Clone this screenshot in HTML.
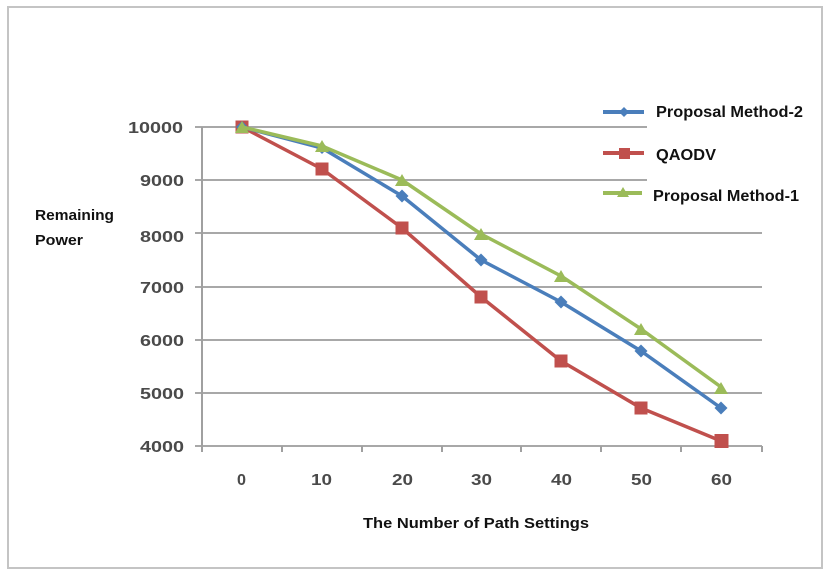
<!DOCTYPE html>
<html><head><meta charset="utf-8"><style>
html,body{margin:0;padding:0;background:#fff;}
svg{display:block;}
text{font-family:"Liberation Sans",sans-serif;font-weight:bold;}
</style></head><body>
<svg width="827" height="580" viewBox="0 0 827 580" xmlns="http://www.w3.org/2000/svg">
<rect x="0" y="0" width="827" height="580" fill="#fff"/>
<rect x="8" y="7" width="814" height="561" fill="#fff" stroke="#c4c4c4" stroke-width="2"/>
<!-- gridlines -->
<g stroke="#a8a8a8" stroke-width="2">
<line x1="195" y1="127" x2="647" y2="127"/>
<line x1="195" y1="180" x2="647" y2="180"/>
<line x1="195" y1="233" x2="762" y2="233"/>
<line x1="195" y1="287" x2="762" y2="287"/>
<line x1="195" y1="340" x2="762" y2="340"/>
<line x1="195" y1="393" x2="762" y2="393"/>
<line x1="195" y1="446" x2="762" y2="446"/>
</g>
<!-- axes -->
<g stroke="#a0a0a0" stroke-width="2">
<line x1="202" y1="127" x2="202" y2="452"/>
<line x1="282" y1="446" x2="282" y2="452"/>
<line x1="362" y1="446" x2="362" y2="452"/>
<line x1="442" y1="446" x2="442" y2="452"/>
<line x1="521" y1="446" x2="521" y2="452"/>
<line x1="601" y1="446" x2="601" y2="452"/>
<line x1="681" y1="446" x2="681" y2="452"/>
<line x1="762" y1="446" x2="762" y2="452"/>
</g>
<!-- y labels -->
<g fill="#4a4a4a" font-size="16" text-anchor="end">
<text x="183" y="133" textLength="55" lengthAdjust="spacingAndGlyphs">10000</text>
<text x="184" y="186" textLength="44" lengthAdjust="spacingAndGlyphs">9000</text>
<text x="184" y="242" textLength="44" lengthAdjust="spacingAndGlyphs">8000</text>
<text x="184" y="293" textLength="44" lengthAdjust="spacingAndGlyphs">7000</text>
<text x="184" y="346" textLength="44" lengthAdjust="spacingAndGlyphs">6000</text>
<text x="184" y="399" textLength="44" lengthAdjust="spacingAndGlyphs">5000</text>
<text x="184" y="452" textLength="44" lengthAdjust="spacingAndGlyphs">4000</text>
</g>
<!-- x labels -->
<g fill="#4a4a4a" font-size="16">
<text x="237" y="485" textLength="9" lengthAdjust="spacingAndGlyphs">0</text>
<text x="311" y="485" textLength="21" lengthAdjust="spacingAndGlyphs">10</text>
<text x="392" y="485" textLength="21" lengthAdjust="spacingAndGlyphs">20</text>
<text x="471" y="485" textLength="21" lengthAdjust="spacingAndGlyphs">30</text>
<text x="551" y="485" textLength="21" lengthAdjust="spacingAndGlyphs">40</text>
<text x="631" y="485" textLength="21" lengthAdjust="spacingAndGlyphs">50</text>
<text x="711" y="485" textLength="21" lengthAdjust="spacingAndGlyphs">60</text>
</g>
<!-- titles -->
<g fill="#111" font-size="15">
<text x="363" y="528" textLength="226" lengthAdjust="spacingAndGlyphs">The Number of Path Settings</text>
<text x="35" y="220" textLength="79" lengthAdjust="spacingAndGlyphs">Remaining</text>
<text x="35" y="245" textLength="48" lengthAdjust="spacingAndGlyphs">Power</text>
</g>
<!-- series: red QAODV -->
<polyline fill="none" stroke="#C0504D" stroke-width="3.5" stroke-linejoin="round"
 points="242,127 322,169 402,228 481,297 561,361 641,408 721,441"/>
<g fill="#C0504D">
<rect x="235.5" y="120.5" width="13" height="13"/>
<rect x="315.5" y="162.5" width="13" height="13"/>
<rect x="395.5" y="221.5" width="13" height="13"/>
<rect x="474.5" y="290.5" width="13" height="13"/>
<rect x="554.5" y="354.5" width="13" height="13"/>
<rect x="634.5" y="401.5" width="13" height="13"/>
<rect x="714.5" y="434" width="14" height="14"/>
</g>
<!-- blue Method-2 -->
<polyline fill="none" stroke="#4A7EBB" stroke-width="3.5" stroke-linejoin="round"
 points="242,127 322,148 402,196 481,260 561,302 641,351 721,408"/>
<g fill="#4A7EBB">
<polygon points="242,121 248,127 242,133 236,127"/>
<polygon points="322,142 328,148 322,154 316,148"/>
<polygon points="402,189.5 408.5,196 402,202.5 395.5,196"/>
<polygon points="481,253.5 487.5,260 481,266.5 474.5,260"/>
<polygon points="561,295.5 567.5,302 561,308.5 554.5,302"/>
<polygon points="641,344.5 647.5,351 641,357.5 634.5,351"/>
<polygon points="721,401.5 727.5,408 721,414.5 714.5,408"/>
</g>
<!-- green Method-1 -->
<polyline fill="none" stroke="#9BBB59" stroke-width="3.5" stroke-linejoin="round"
 points="242,127 322,146 402,180 481,234 561,276 641,329 721,387"/>
<g fill="#9BBB59">
<polygon points="242,121 249,133 235,133"/>
<polygon points="322,140 329,152 315,152"/>
<polygon points="402,174 409,186 395,186"/>
<polygon points="481,228 488,240 474,240"/>
<polygon points="561,270 568,282 554,282"/>
<polygon points="641,323 648,335 634,335"/>
<polygon points="721,382 728,394 714,394"/>
</g>
<!-- legend -->
<line x1="603" y1="112" x2="644" y2="112" stroke="#4A7EBB" stroke-width="4"/>
<polygon points="624,107 629,112 624,117 619,112" fill="#4A7EBB"/>
<line x1="603" y1="153" x2="644" y2="153" stroke="#C0504D" stroke-width="4"/>
<rect x="619" y="148" width="11" height="11" fill="#C0504D"/>
<line x1="603" y1="193" x2="642" y2="193" stroke="#9BBB59" stroke-width="4"/>
<polygon points="623,187 629,197 617,197" fill="#9BBB59"/>
<g fill="#111" font-size="16">
<text x="656" y="117" textLength="147" lengthAdjust="spacingAndGlyphs">Proposal Method-2</text>
<text x="656" y="160" textLength="60" lengthAdjust="spacingAndGlyphs">QAODV</text>
<text x="653" y="201" textLength="146" lengthAdjust="spacingAndGlyphs">Proposal Method-1</text>
</g>
</svg>
</body></html>
